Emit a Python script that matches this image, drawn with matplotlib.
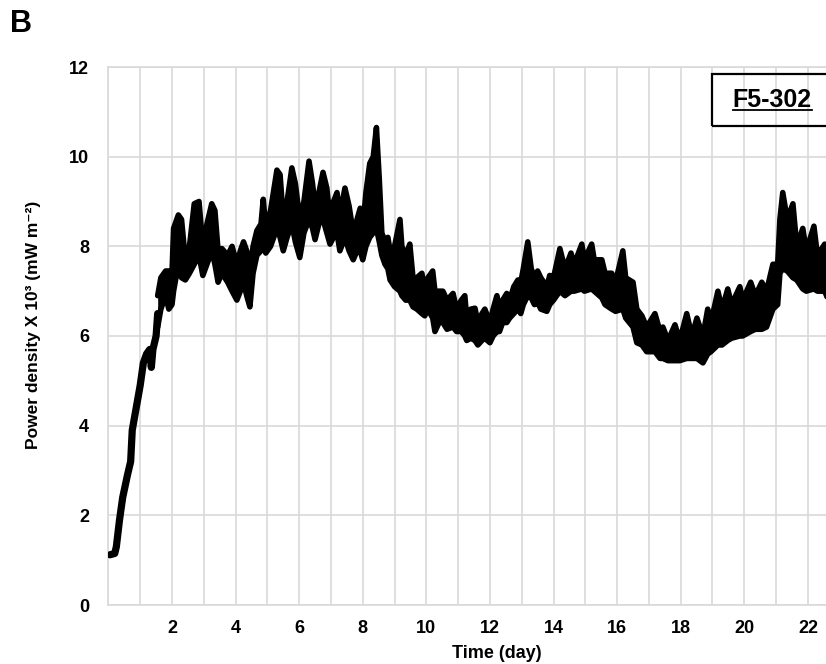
import matplotlib
matplotlib.use("Agg")
import matplotlib.pyplot as plt
from matplotlib.patches import Rectangle

plt.rcParams['font.family'] = ['Liberation Sans', 'DejaVu Sans']

# Start-up phase: single trace (time in days, power density x10^3 mW m^-2)
ramp_time = [0.05, 0.2, 0.25, 0.35, 0.45, 0.6, 0.7, 0.75, 0.85, 1.0, 1.1, 1.2, 1.3, 1.35,
             1.4, 1.5, 1.55]
ramp_value = [1.12, 1.15, 1.3, 1.9, 2.4, 2.9, 3.2, 3.9, 4.3, 4.9, 5.4, 5.6, 5.7, 5.3,
              5.7, 6.0, 6.5]

# Dense oscillating phase: upper and lower envelopes of the trace
band_time = [1.55, 1.65, 1.8, 1.9, 2.0, 2.05, 2.2, 2.3, 2.42, 2.55, 2.7, 2.85, 2.97, 3.1,
             3.25, 3.35, 3.45, 3.57, 3.75, 3.89, 4.04, 4.15, 4.25, 4.35, 4.45, 4.55, 4.67,
             4.8, 4.87, 4.95, 5.1, 5.3, 5.4, 5.5, 5.62, 5.77, 5.88, 6.02, 6.15, 6.31, 6.42,
             6.5, 6.62, 6.75, 6.87, 6.97, 7.08, 7.19, 7.28, 7.44, 7.57, 7.7, 7.82, 7.92, 8.0,
             8.1, 8.22, 8.33, 8.43, 8.52, 8.6, 8.7, 8.79, 8.86, 9.0, 9.17, 9.23, 9.35, 9.48,
             9.58, 9.7, 9.86, 9.95, 10.05, 10.2, 10.27, 10.4, 10.52, 10.65, 10.84, 10.95,
             11.1, 11.21, 11.27, 11.4, 11.53, 11.62, 11.75, 11.84, 12.0, 12.1, 12.22, 12.3,
             12.4, 12.53, 12.62, 12.75, 12.88, 12.97, 13.05, 13.19, 13.3, 13.4, 13.5, 13.6,
             13.79, 13.88, 14.0, 14.2, 14.36, 14.55, 14.65, 14.89, 14.97, 15.2, 15.28, 15.52,
             15.62, 15.83, 15.95, 16.18, 16.27, 16.5, 16.62, 16.78, 16.93, 17.19, 17.35,
             17.44, 17.6, 17.82, 17.97, 18.19, 18.35, 18.51, 18.7, 18.85, 18.95, 19.17, 19.3,
             19.48, 19.6, 19.86, 19.95, 20.2, 20.35, 20.55, 20.7, 20.9, 21.05, 21.12, 21.21,
             21.35, 21.53, 21.65, 21.84, 21.95, 22.19, 22.3, 22.53, 22.7]
band_upper = [6.9, 7.3, 7.45, 7.45, 7.4, 8.4, 8.7, 8.6, 7.7, 8.0, 8.95, 9.0, 8.0, 8.5,
              8.95, 8.8, 7.9, 7.95, 7.8, 8.0, 7.6, 7.9, 8.1, 7.9, 7.4, 8.0, 8.35,
              8.5, 9.05, 8.4, 8.8, 9.7, 9.6, 8.6, 9.0, 9.75, 9.4, 8.6, 9.0, 9.9, 9.4,
              8.9, 9.2, 9.65, 9.3, 8.6, 9.0, 9.2, 8.7, 9.3, 8.9, 8.3, 8.6, 8.85, 8.4,
              9.2, 9.85, 10.0, 10.65, 9.5, 8.3, 8.1, 8.2, 7.9, 8.0, 8.6, 8.0, 7.8, 8.05,
              7.3, 7.3, 7.4, 7.0, 7.3, 7.45, 7.0, 7.0, 7.0, 6.8, 6.95, 6.6,
              6.8, 6.9, 6.4, 6.6, 6.62, 6.3, 6.5, 6.6, 6.3, 6.6, 6.9, 6.6,
              6.8, 6.95, 6.8, 7.1, 7.25, 7.2, 7.5, 8.1, 7.5, 7.3, 7.45, 7.3,
              7.1, 7.35, 7.3, 7.95, 7.5, 7.85, 7.6, 8.05, 7.7, 8.05, 7.7, 7.7,
              7.4, 7.4, 7.2, 7.9, 7.3, 7.2, 6.6, 6.45, 6.2, 6.5, 6.1,
              6.2, 5.9, 6.25, 5.9, 6.5, 6.0, 6.4, 6.0, 6.6, 6.3, 7.0, 6.6,
              7.05, 6.7, 7.1, 6.8, 7.2, 6.9, 7.2, 7.0, 7.6, 7.6, 8.6, 9.2,
              8.6, 8.95, 8.0, 8.4, 7.9, 8.45, 7.8, 8.05, 7.6]
band_lower = [6.2, 6.6, 6.9, 6.6, 6.7, 7.0, 7.6, 7.3, 7.25, 7.4, 7.6, 7.8, 7.35, 7.6,
              7.9, 7.6, 7.2, 7.4, 7.2, 7.0, 6.8, 7.0, 7.2, 6.9, 6.65, 7.4, 7.8,
              7.9, 8.2, 7.85, 8.0, 8.4, 8.2, 7.9, 8.2, 8.5, 8.1, 7.75, 8.3, 8.6, 8.4,
              8.15, 8.5, 8.6, 8.3, 8.05, 8.2, 8.3, 7.9, 8.2, 7.9, 7.7, 7.9, 7.9, 7.7,
              8.0, 8.2, 8.3, 8.4, 8.1, 7.8, 7.6, 7.5, 7.25, 7.1, 7.0, 6.9, 6.8, 6.8,
              6.65, 6.6, 6.5, 6.45, 6.6, 6.4, 6.1, 6.3, 6.3, 6.15, 6.2, 6.1,
              6.1, 6.0, 5.9, 5.95, 5.9, 5.8, 5.9, 5.95, 5.85, 6.0, 6.1, 6.1,
              6.3, 6.3, 6.4, 6.5, 6.6, 6.5, 6.7, 6.9, 6.85, 6.7, 6.75, 6.6,
              6.55, 6.7, 6.8, 7.0, 6.9, 7.0, 7.0, 7.05, 7.0, 7.05, 7.0, 6.85,
              6.7, 6.6, 6.55, 6.6, 6.4, 6.2, 5.85, 5.8, 5.65, 5.65, 5.5,
              5.5, 5.45, 5.45, 5.45, 5.5, 5.5, 5.5, 5.4, 5.6, 5.65, 5.8, 5.8,
              5.9, 5.95, 6.0, 6.0, 6.1, 6.15, 6.15, 6.2, 6.6, 6.7, 7.4, 7.5,
              7.45, 7.3, 7.25, 7.05, 7.0, 7.05, 7.0, 7.0, 6.7]

x_ticks = [2, 4, 6, 8, 10, 12, 14, 16, 18, 20, 22]
y_ticks = [0, 2, 4, 6, 8, 10, 12]

W, H = 826, 664
fig = plt.figure(figsize=(W / 100, H / 100), dpi=100)
ax = fig.add_axes([108.4 / W, 1 - 605 / H, (W - 108.4) / W, 538 / H])

grid_c = '#d9d9d9'
ax.set_xlim(0, 22.57)
ax.set_ylim(0, 12)
ax.set_xticks(range(0, 23), minor=True)
ax.set_xticks(x_ticks)
ax.set_yticks(y_ticks)
ax.grid(True, which='both', axis='x', color=grid_c, lw=1.2)
ax.grid(True, which='major', axis='y', color=grid_c, lw=1.2)
ax.set_axisbelow(True)
for s in ['left', 'bottom', 'top']:
    ax.spines[s].set_color(grid_c)
    ax.spines[s].set_linewidth(1.2)
ax.spines['right'].set_visible(False)
ax.tick_params(axis='both', which='both', length=0)
ax.tick_params(axis='x', pad=11)
ax.tick_params(axis='y', pad=14)
for lab in ax.get_xticklabels() + ax.get_yticklabels():
    lab.set_fontsize(13)
    lab.set_fontweight('bold')

line_kw = dict(color='black', solid_joinstyle='round', solid_capstyle='round', zorder=3)
ax.plot(ramp_time, ramp_value, lw=5.2, **line_kw)
ax.fill_between(band_time, band_lower, band_upper, color='black', lw=0, zorder=3)
ax.plot(band_time, band_upper, lw=4.0, **line_kw)
ax.plot(band_time, band_lower, lw=4.0, **line_kw)

ax.set_xlabel('Time (day)', fontsize=13, fontweight='bold')
ax.xaxis.set_label_coords((497 - 108.4) / (W - 108.4), -0.075)
ax.set_ylabel('Power density X 10\u00b3 (mW m\u207b\u00b2)', fontsize=12.5, fontweight='bold')
ax.yaxis.set_label_coords(-(108.4 - 41) / (W - 108.4), (605 - 325) / 538)

fig.text(10 / W, 1 - 24 / H, 'B', fontsize=22, fontweight='bold', va='center', ha='left')

# Label box
ax.add_patch(Rectangle((0.841, 0.890), 0.3, 0.097, transform=ax.transAxes,
                       fill=False, edgecolor='black', lw=1.6, zorder=5))
t = ax.text(0.870, 0.9387, 'F5-302', transform=ax.transAxes, fontsize=18,
            fontweight='bold', ha='left', va='center', zorder=6)
fig.canvas.draw()
bb = t.get_window_extent().transformed(ax.transAxes.inverted())
ax.plot([bb.x0, bb.x1], [bb.y0 + 0.004, bb.y0 + 0.004], transform=ax.transAxes,
        color='black', lw=1.3, zorder=6, clip_on=False)

fig.savefig('out.png', dpi=100)
